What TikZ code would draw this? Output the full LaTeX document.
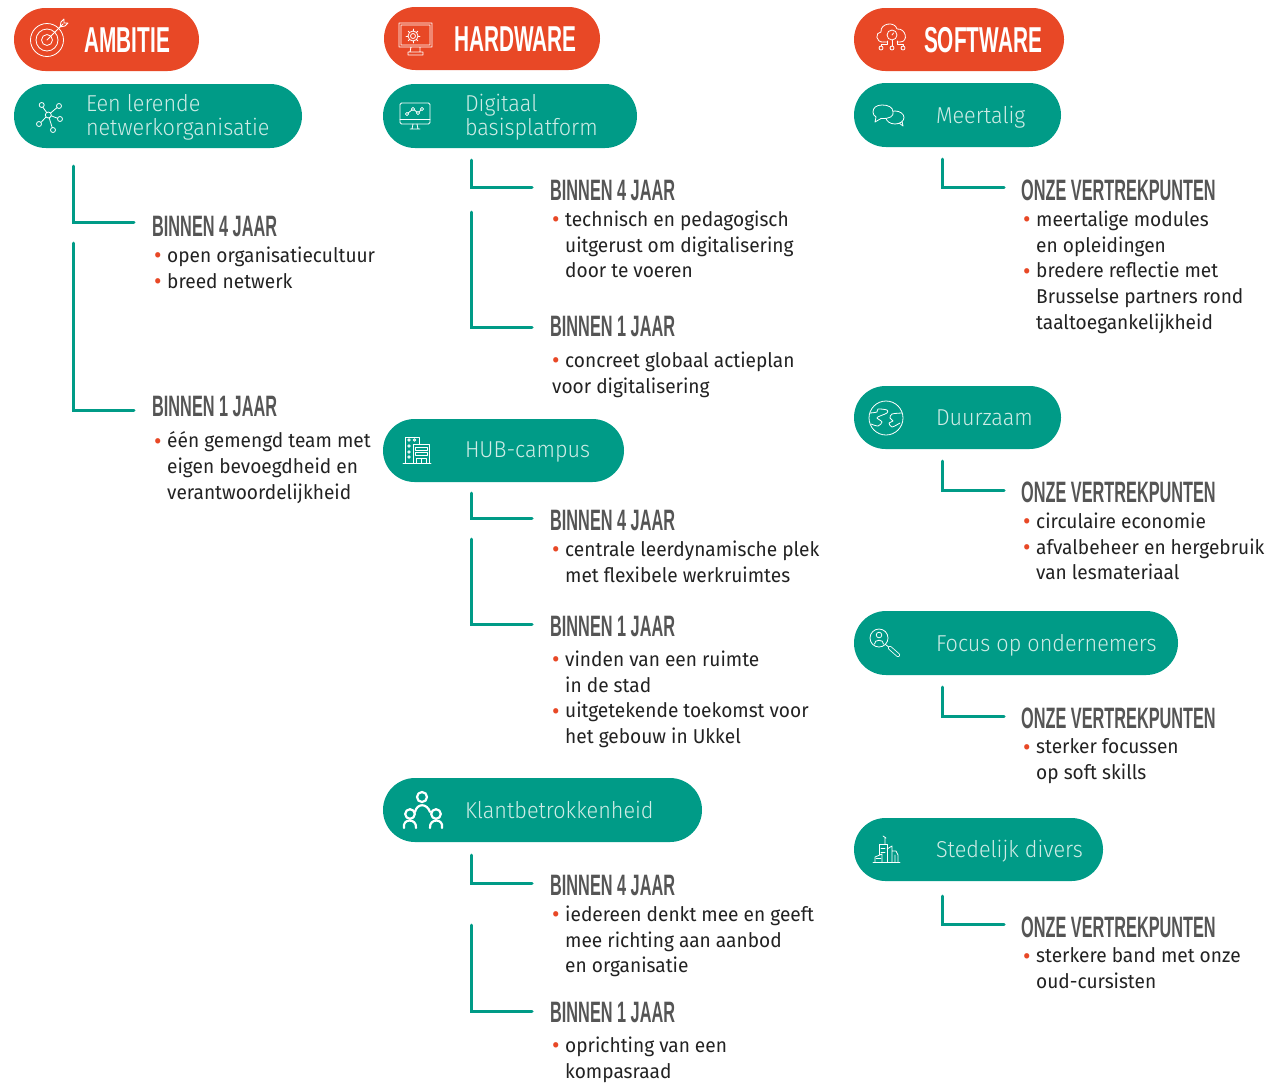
\documentclass[tikz,border=0pt]{standalone}
\usepackage{fontspec}
\usetikzlibrary{positioning,shapes.misc}
\setmainfont[FakeStretch=0.955]{Fira Sans}
\newfontfamily\headfont[FakeStretch=0.552]{Liberation Sans Bold}
\newfontfamily\redfont[FakeStretch=0.578]{Liberation Sans Bold}
\newfontfamily\pillfont[FakeStretch=0.94]{Fira Sans Light}
\definecolor{accentred}{HTML}{E84826}
\definecolor{teal}{HTML}{009B87}
\definecolor{headgrey}{HTML}{555555}
\definecolor{bodyblack}{HTML}{222222}
\definecolor{palemint}{HTML}{CFECE6}
\newcommand{\bul}{\makebox[13pt][l]{\raisebox{-1.5pt}{\textcolor{accentred}{\fontsize{24}{24}\selectfont\textbullet}}}}
\newcommand{\ind}{\hspace*{13pt}}
\tikzset{
  redpill/.style={rounded rectangle, fill=accentred, minimum height=63pt, inner sep=0pt},
  tealpill/.style={rounded rectangle, fill=teal, minimum height=64pt, inner sep=0pt},
  redlabel/.style={anchor=west, inner sep=0pt, text=white, text height=25pt, text depth=0pt, font=\redfont\fontsize{36}{36}\selectfont},
  teallabel/.style={anchor=west, inner sep=0pt, text=palemint, align=left, font=\pillfont\fontsize{23}{24.5}\selectfont,
    execute at begin node={\rule{0pt}{22pt}}, execute at end node={\rule[-6pt]{0pt}{6pt}}},
  headtext/.style={anchor=west, inner sep=0pt, text=headgrey, text height=21pt, text depth=0pt, font=\headfont\fontsize{29.5}{30}\selectfont},
  bodytext/.style={inner sep=0pt, text=bodyblack, align=left, font=\fontsize{20}{25.7}\selectfont},
  setanchor/.style={anchor=north west},
  elbow/.style={draw=teal, line width=3pt, line cap=round},
  iconline/.style={draw=white, line width=0.8pt, line cap=round, line join=round},
}
\begin{document}
\begin{tikzpicture}[x=1pt,y=-1pt]
  \useasboundingbox (0,0) rectangle (1268,1082);

  % AMBITIE column
  \node [redpill, minimum width=185pt] (ambitie) at (106.5,39.5) {};
  \node [redlabel, right=70.5pt of ambitie.west] (ambitielabel) {AMBITIE};
  \node [tealpill, minimum width=288pt] (lerende) at (158,116) {};
  \node [teallabel, right=72pt of lerende.west, yshift=-2pt] (lerendelabel) {Een lerende\\netwerkorganisatie};

  \node [headtext] (lerendeA) at (152,226) {BINNEN 4 JAAR};
  \node [bodytext, below=9.8pt of lerendeA.south west, xshift=2pt, setanchor] (lerendeAbody)
    {\bul open organisatiecultuur\\
     \bul breed netwerk};
  \node [headtext] (lerendeB) at (152,406) {BINNEN 1 JAAR};
  \node [bodytext, below=15pt of lerendeB.south west, xshift=2pt, setanchor] (lerendeBbody)
    {\bul één gemengd team met\\
     \ind eigen bevoegdheid en\\
     \ind verantwoordelijkheid};

  % HARDWARE column
  \node [redpill, minimum width=216pt] (hardware) at (492,38.5) {};
  \node [redlabel, right=70pt of hardware.west] (hardwarelabel) {HARDWARE};
  \node [tealpill, minimum width=254pt] (digitaal) at (510,116) {};
  \node [teallabel, right=82pt of digitaal.west, yshift=-2pt] (digitaallabel) {Digitaal\\basisplatform};

  \node [headtext] (digitaalA) at (550,190) {BINNEN 4 JAAR};
  \node [bodytext, below=9.8pt of digitaalA.south west, xshift=2pt, setanchor] (digitaalAbody)
    {\bul technisch en pedagogisch\\
     \ind uitgerust om digitalisering\\
     \ind door te voeren};
  \node [headtext] (digitaalB) at (550,326) {BINNEN 1 JAAR};
  \node [bodytext, below=14.8pt of digitaalB.south west, xshift=2pt, setanchor] (digitaalBbody)
    {\bul concreet globaal actieplan\\
     voor digitalisering};

  \node [tealpill, minimum width=241pt, minimum height=63pt] (hub) at (503.5,450.5) {};
  \node [teallabel, right=82pt of hub.west, yshift=1pt] (hublabel) {HUB-campus};

  \node [headtext] (hubA) at (550,520) {BINNEN 4 JAAR};
  \node [bodytext, below=9.8pt of hubA.south west, xshift=2pt, setanchor] (hubAbody)
    {\bul centrale leerdynamische plek\\
     \ind met flexibele werkruimtes};
  \node [headtext] (hubB) at (550,626) {BINNEN 1 JAAR};
  \node [bodytext, below=13.8pt of hubB.south west, xshift=2pt, setanchor] (hubBbody)
    {\bul vinden van een ruimte\\
     \ind in de stad\\
     \bul uitgetekende toekomst voor\\
     \ind het gebouw in Ukkel};

  \node [tealpill, minimum width=319pt] (klant) at (542.5,810) {};
  \node [teallabel, right=82pt of klant.west] (klantlabel) {Klantbetrokkenheid};

  \node [headtext] (klantA) at (550,885) {BINNEN 4 JAAR};
  \node [bodytext, below=9.8pt of klantA.south west, xshift=2pt, setanchor] (klantAbody)
    {\bul iedereen denkt mee en geeft\\
     \ind mee richting aan aanbod\\
     \ind en organisatie};
  \node [headtext] (klantB) at (550,1012) {BINNEN 1 JAAR};
  \node [bodytext, below=13.8pt of klantB.south west, xshift=2pt, setanchor] (klantBbody)
    {\bul oprichting van een\\
     \ind kompasraad};

  % SOFTWARE column
  \node [redpill, minimum width=210pt] (software) at (959,39.5) {};
  \node [redlabel, right=70pt of software.west] (softwarelabel) {SOFTWARE};
  \node [tealpill, minimum width=207pt] (meertalig) at (957.5,115) {};
  \node [teallabel, right=82pt of meertalig.west] (meertaliglabel) {Meertalig};

  \node [headtext] (meertaligA) at (1021,190) {ONZE VERTREKPUNTEN};
  \node [bodytext, below=9.8pt of meertaligA.south west, xshift=2pt, setanchor] (meertaligAbody)
    {\bul meertalige modules\\
     \ind en opleidingen\\
     \bul bredere reflectie met\\
     \ind Brusselse partners rond\\
     \ind taaltoegankelijkheid};

  \node [tealpill, minimum width=207pt, minimum height=63pt] (duurzaam) at (957.5,417.5) {};
  \node [teallabel, right=82pt of duurzaam.west] (duurzaamlabel) {Duurzaam};

  \node [headtext] (duurzaamA) at (1021,492) {ONZE VERTREKPUNTEN};
  \node [bodytext, below=9.8pt of duurzaamA.south west, xshift=2pt, setanchor] (duurzaamAbody)
    {\bul circulaire economie\\
     \bul afvalbeheer en hergebruik\\
     \ind van lesmateriaal};

  \node [tealpill, minimum width=324pt] (focus) at (1016,643) {};
  \node [teallabel, right=82pt of focus.west] (focuslabel) {Focus op ondernemers};

  \node [headtext] (focusA) at (1021,718) {ONZE VERTREKPUNTEN};
  \node [bodytext, below=9.8pt of focusA.south west, xshift=2pt, setanchor] (focusAbody)
    {\bul sterker focussen\\
     \ind op soft skills};

  \node [tealpill, minimum width=249pt, minimum height=63pt] (stedelijk) at (978.5,849.5) {};
  \node [teallabel, right=82pt of stedelijk.west] (stedelijklabel) {Stedelijk divers};

  \node [headtext] (stedelijkA) at (1021,927) {ONZE VERTREKPUNTEN};
  \node [bodytext, below=9.8pt of stedelijkA.south west, xshift=2pt, setanchor] (stedelijkAbody)
    {\bul sterkere band met onze\\
     \ind oud-cursisten};

  % Elbows
  \coordinate (lerendeAs) at (73,166);
  \coordinate (lerendeBs) at (73,243);
  \coordinate (digitaalAs) at (471,160);
  \coordinate (digitaalBs) at (471,212);
  \coordinate (hubAs) at (471,493);
  \coordinate (hubBs) at (471,539);
  \coordinate (klantAs) at (471,855);
  \coordinate (klantBs) at (471,925);
  \coordinate (meertaligAs) at (942,159);
  \coordinate (duurzaamAs) at (942,461);
  \coordinate (focusAs) at (942,687);
  \coordinate (stedelijkAs) at (942,896);
  \draw [elbow] (lerendeAs) |- ([xshift=-18pt,yshift=3.5pt]lerendeA.west);
  \draw [elbow] (lerendeBs) |- ([xshift=-18pt,yshift=-4pt]lerendeB.west);
  \draw [elbow] (digitaalAs) |- ([xshift=-18pt,yshift=3pt]digitaalA.west);
  \draw [elbow] (digitaalBs) |- ([xshift=-18pt,yshift=-1pt]digitaalB.west);
  \draw [elbow] (hubAs) |- ([xshift=-18pt,yshift=2pt]hubA.west);
  \draw [elbow] (hubBs) |- ([xshift=-18pt,yshift=2pt]hubB.west);
  \draw [elbow] (klantAs) |- ([xshift=-18pt,yshift=2pt]klantA.west);
  \draw [elbow] (klantBs) |- ([xshift=-18pt,yshift=1pt]klantB.west);
  \draw [elbow] (meertaligAs) |- ([xshift=-17pt,yshift=3pt]meertaligA.west);
  \draw [elbow] (duurzaamAs) |- ([xshift=-17pt,yshift=2pt]duurzaamA.west);
  \draw [elbow] (focusAs) |- ([xshift=-17pt,yshift=2pt]focusA.west);
  \draw [elbow] (stedelijkAs) |- ([xshift=-17pt,yshift=3pt]stedelijkA.west);

  % Icon target
  \draw [iconline] (47,40) circle (16.5) (47,40) circle (11) (47,40) circle (5.5);
  \draw [iconline] (47,40) -- (63,24) (60,27) -- (61,22) -- (64,19) -- (64,23) -- (68,23) -- (65,26) -- (60,27);
  % Icon network
  \draw [iconline] (48.3,115) circle (3)
    (41.7,105) circle (2.5) (59,106) circle (2.5) (60,119) circle (2.5) (53,130) circle (2.5) (39,124) circle (2.5);
  \draw [iconline] (46.7,112.5) -- (42.8,107.2) (50.6,113) -- (57,107.6) (51.2,115.8) -- (57.6,118.3)
    (49.2,117.9) -- (52.2,127.6) (46,117) -- (41,122.4);
  % Icon monitor gear
  \draw [iconline] (399,23) rectangle (432,47) (401,25) rectangle (430,45)
    (411,47) -- (410,52) -- (420,52) -- (420,47) (408,52) rectangle (423,55);
  \draw [iconline] (413,36) circle (2.5) (413,36) circle (5);
  \foreach \ang in {0,45,...,315} \draw [iconline] (413,36) ++(\ang:5) -- ++(\ang:2);
  % Icon monitor chart
  \draw [iconline, rounded corners=1.5pt] (400,103) rectangle (430,124);
  \draw [iconline] (400,119.5) -- (430,119.5) (413,124) -- (412,129) (417,124) -- (418,129) (410,129) -- (420,129);
  \draw [iconline] (407,114) circle (1.6) (413,109) circle (1.6) (418,113) circle (1.6) (422,109) circle (1.6)
    (408.2,113) -- (411.8,110) (414.3,110) -- (416.8,112) (419.2,112) -- (420.8,110);
  % Icon cloud
  \draw [iconline] (884,42) .. controls (875,43) and (875,32) .. (881,32)
    .. controls (880,23) and (895,21) .. (897,29) .. controls (906,28) and (909,42) .. (900,42) -- (897,42);
  \draw [iconline] (892,35) circle (5) (892,35) -- (893.5,33) (887,42) -- (884,42);
  \draw [iconline] (892,40) -- (892,46) (887,41) -- (887,44) -- (881,44) -- (881,46) (897,41) -- (897,44) -- (903,44) -- (903,46);
  \draw [iconline] (881,48) circle (2) (892,48) circle (2) (903,48) circle (2);
  % Icon bubbles
  \draw [iconline, fill=teal] (895,117.5) ellipse (9 and 6.5) (899,123) -- (903,126) -- (902,121);
  \draw [iconline, fill=teal] (876,117) -- (875,122) -- (881,118.5) .. controls (890,119) and (894,116) .. (893,112)
    .. controls (893,107) and (888,105) .. (882,105) .. controls (876,105) and (873,108) .. (873,112) .. controls (873,114) and (874,116) .. (876,117);
  % Icon building
  \draw [iconline] (405,463) -- (405,437) -- (419,437) -- (419,444) (403,463) -- (431,463);
  \draw [iconline] (413,463) -- (413,444) -- (429,444) -- (429,463);
  \foreach \wy in {440,446,452,457} \draw [iconline] (409,\wy) circle (1.3);
  \draw [iconline] (414.5,440) circle (1.3);
  \draw [iconline] (415,447) rectangle (427,450) (415,452.5) rectangle (427,455.5) (416,458) rectangle (421,463) (421,458) rectangle (426,463);
  % Icon people
  \draw [iconline, line width=2.2pt] (422,797) circle (5) (410,814) circle (4.8) (436,814) circle (4.8);
  \draw [iconline, line width=2.2pt] (404,828) .. controls (402,818) and (417,818) .. (416,828)
    (430,828) .. controls (429,818) and (444,818) .. (442,828)
    (415,812) .. controls (417,803) and (427,803) .. (430,812);
  % Icon globe
  \draw [iconline] (886,418) circle (17);
  \draw [iconline] plot [smooth] coordinates {(870,413) (877,412) (878,409) (887,410) (887,413) (880,416) (877,418) (882,422) (878,426) (871,424)};
  \draw [iconline] plot [smooth] coordinates {(902,413) (892,414) (890,418) (893,421) (889,423) (892,427) (900,423)};
  % Icon magnifier
  \draw [iconline] (879,638) circle (9) (879,635) circle (2.8)
    (874.5,644) .. controls (874,639) and (884,639) .. (883.5,644);
  \draw [iconline] (885.5,644.5) -- (890,648);
  \draw [white, line width=4pt, line cap=round] (890,648) -- (898,655);
  \draw [teal, line width=2.4pt, line cap=round] (890,648) -- (898,655);
  % Icon city
  \draw [iconline] (873,862) -- (900,862);
  \draw [iconline] (875,862) -- (875,857) -- (882,854) -- (882,862);
  \draw [iconline] (879,855) -- (879,844) -- (887,844) -- (887,862);
  \draw [iconline] (887,849) -- (892,846) -- (892,862) (892,851) -- (896,851) -- (898,855) -- (898,862) (895,855) -- (895,862);
  \draw [iconline] (885,844) -- (885,838) (883,836) -- (886,838);
  \draw [iconline] (876,858) -- (881,858) (881,848) -- (885,848) (881,852) -- (885,852);
\end{tikzpicture}
\end{document}
